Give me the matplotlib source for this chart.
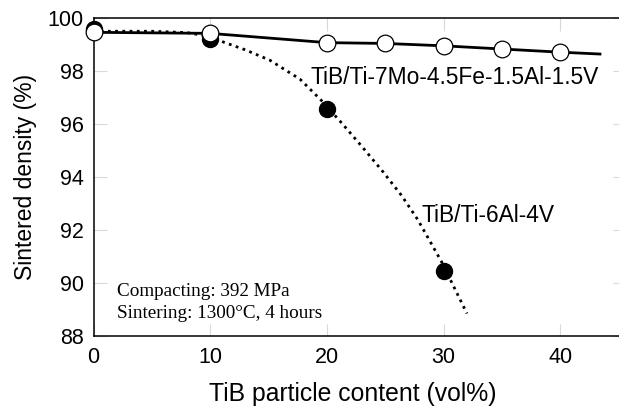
import matplotlib
matplotlib.use("Agg")
import matplotlib.pyplot as plt

# Measured points
x_ti6al4v = [0, 10, 20, 30]
y_ti6al4v = [99.6, 99.2, 96.57, 90.46]

x_ti7mo = [0, 10, 20, 25, 30, 35, 40]
y_ti7mo = [99.46, 99.42, 99.07, 99.04, 98.95, 98.83, 98.71]

# Trend lines
trend_ti6al4v_x = [0, 5, 8, 10, 11.2, 13, 15.1, 17.7, 19.5, 21.3, 23, 24.8, 26.4, 27.8, 29.8, 32]
trend_ti6al4v_y = [99.5, 99.5, 99.45, 99.3, 99.08, 98.8, 98.41, 97.69, 96.9, 96.02, 95.15, 94.2, 93.3, 92.38, 90.82, 88.85]

trend_ti7mo_x = [0, 10, 20, 25, 30, 35, 40, 43.4]
trend_ti7mo_y = [99.46, 99.42, 99.07, 99.04, 98.95, 98.83, 98.71, 98.64]

xticks = [0, 10, 20, 30, 40]
yticks = [88, 90, 92, 94, 96, 98, 100]

fig = plt.figure(figsize=(6.19, 4.07), dpi=100)
ax = fig.add_axes([93.5 / 619, 1 - 336 / 407, 531 / 619, (336 - 18) / 407])

ax.plot(trend_ti6al4v_x, trend_ti6al4v_y, color="black", lw=2.0,
        linestyle=(0, (1, 1.6)), zorder=2, clip_on=False)
ax.plot(trend_ti7mo_x, trend_ti7mo_y, color="black", lw=2.0, zorder=2, clip_on=False)

ax.plot(x_ti6al4v, y_ti6al4v, "o", color="black", ms=11.5, zorder=3, clip_on=False)
ax.plot(x_ti7mo, y_ti7mo, "o", mfc="white", mec="black", mew=0.9, ms=12,
        zorder=4, clip_on=False)

ax.set_xlim(0, 45.5)
ax.set_ylim(88, 100)
ax.set_xticks(xticks)
ax.set_yticks(yticks)

for s in ax.spines.values():
    s.set_linewidth(1.1)
ax.spines["right"].set_visible(False)

ax.tick_params(direction="in", length=9, width=0.8, color="#d9d9d9",
               top=True, right=True, labelsize=15.5, pad=7)
ax.tick_params(axis="x", pad=8)

label_font = "Liberation Sans"
for lab in ax.get_xticklabels() + ax.get_yticklabels():
    lab.set_family(label_font)

ax.set_xlabel("TiB particle content (vol%)", fontsize=17.8, family=label_font)
ax.xaxis.label.set_va("baseline")
ax.xaxis.set_label_coords(0.4887, -0.2044)
ax.set_ylabel("Sintered density (%)", fontsize=16.5, family=label_font, labelpad=8)

ax.text(18.6, 97.75, "TiB/Ti-7Mo-4.5Fe-1.5Al-1.5V", fontsize=16.4, family=label_font,
        va="center", ha="left")
ax.text(28.1, 92.55, "TiB/Ti-6Al-4V", fontsize=16.4, family=label_font,
        va="center", ha="left")

ax.text(2.0, 89.67, "Compacting: 392 MPa", fontsize=13.8, family="Liberation Serif",
        va="center", ha="left")
ax.text(2.0, 88.86, "Sintering: 1300\u00b0C, 4 hours", fontsize=13.8,
        family="Liberation Serif", va="center", ha="left")

fig.savefig("out.png", dpi=100)
